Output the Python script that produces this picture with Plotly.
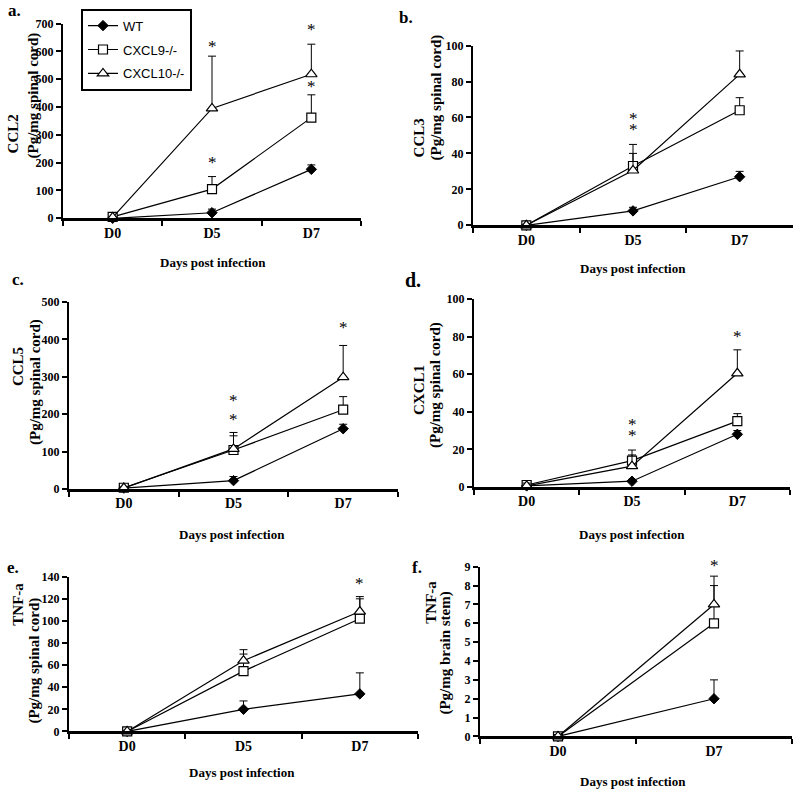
import plotly.graph_objects as go

W, H = 800, 795

# ---------------- data ----------------
days3 = ["D0", "D5", "D7"]
days2 = ["D0", "D7"]

# a. CCL2
a_wt = [0, 20, 176];    a_wt_err = [2, 13, 16]
a_c9 = [5, 105, 362];   a_c9_err = [3, 45, 82]
a_c10 = [3, 395, 518];  a_c10_err = [3, 188, 108]
a_star_x = ["D5", "D5", "D7", "D7"]; a_star_y = [604, 185, 664, 461]

# b. CCL3
b_wt = [0, 8, 27];      b_wt_err = [0.5, 2, 3]
b_c9 = [0, 33, 64];     b_c9_err = [0.5, 12, 7]
b_c10 = [0, 30.5, 84];  b_c10_err = [0.5, 9.5, 13]
b_star_x = ["D5", "D5", "D7"]; b_star_y = [57, 51, 103]

# c. CCL5
c_wt = [2, 22, 161];    c_wt_err = [3, 11, 12]
c_c9 = [3, 104, 212];   c_c9_err = [3, 47, 35]
c_c10 = [2, 107, 299];  c_c10_err = [3, 35, 85]
c_star_x = ["D5", "D5", "D7"]; c_star_y = [225, 176, 421]

# d. CXCL1
d_wt = [0.5, 3, 28];    d_wt_err = [1, 1, 2]
d_c9 = [1, 14, 35];     d_c9_err = [1.5, 5.6, 4]
d_c10 = [0.5, 11, 60.5]; d_c10_err = [1.5, 6, 12.5]
d_star_x = ["D5", "D5", "D7"]; d_star_y = [31, 25, 78]

# e. TNF-a spinal cord
e_wt = [0, 20, 34];     e_wt_err = [1, 7.6, 19]
e_c9 = [0, 54.6, 102];  e_c9_err = [1, 15.4, 18]
e_c10 = [0, 64, 108.5]; e_c10_err = [1, 10, 13.5]
e_star_x = ["D7", "D7"]; e_star_y = [143, 130]

# f. TNF-a brain stem
f_wt = [0, 2];          f_wt_err = [0.1, 1.0]
f_c9 = [0, 6];          f_c9_err = [0.1, 2.0]
f_c10 = [0, 7];         f_c10_err = [0.1, 1.5]
f_star_x = ["D7", "D7"]; f_star_y = [9.3, 8.86]

series_names = ["WT", "CXCL9-/-", "CXCL10-/-"]

# ---------------- layout helpers ----------------
def fx(px):
    return px / W

def fy(py):
    # small vertical stretch about the centre to offset the capture's compression
    y = H / 2 + (py - H / 2) / 0.984
    return 1 - y / H

SERIF = "Liberation Serif, Times New Roman, serif"
SANS = "Liberation Sans, Arial, sans-serif"

panels = [
    dict(cats=days3, s=[(a_wt, a_wt_err), (a_c9, a_c9_err), (a_c10, a_c10_err)],
         sx=a_star_x, sy=a_star_y, box=(63, 361, 23, 218), ymax=700, dt=100,
         t1="CCL2", t2="(Pg/mg spinal cord)", t1p=(13, 134), t2p=(33, 95),
         xt=(213, 262), lab="a.", labp=(14, 10), labs=17),
    dict(cats=days3, s=[(b_wt, b_wt_err), (b_c9, b_c9_err), (b_c10, b_c10_err)],
         sx=b_star_x, sy=b_star_y, box=(473, 793, 45, 225), ymax=100, dt=20,
         t1="CCL3", t2="(Pg/mg spinal cord)", t1p=(419, 138), t2p=(436, 97),
         xt=(633, 268), lab="b.", labp=(406, 17), labs=17),
    dict(cats=days3, s=[(c_wt, c_wt_err), (c_c9, c_c9_err), (c_c10, c_c10_err)],
         sx=c_star_x, sy=c_star_y, box=(69, 398, 302, 489), ymax=500, dt=100,
         t1="CCL5", t2="(Pg/mg spinal cord)", t1p=(18, 367), t2p=(35, 382),
         xt=(232, 535), lab="c.", labp=(18, 279), labs=17),
    dict(cats=days3, s=[(d_wt, d_wt_err), (d_c9, d_c9_err), (d_c10, d_c10_err)],
         sx=d_star_x, sy=d_star_y, box=(474, 790, 299, 487), ymax=100, dt=20,
         t1="CXCL1", t2="(Pg/mg spinal cord)", t1p=(419, 390), t2p=(435, 385),
         xt=(632, 535), lab="d.", labp=(413, 280), labs=20),
    dict(cats=days3, s=[(e_wt, e_wt_err), (e_c9, e_c9_err), (e_c10, e_c10_err)],
         sx=e_star_x, sy=e_star_y, box=(69, 418, 577, 732), ymax=140, dt=20,
         t1="TNF-a", t2="(Pg/mg spinal cord)", t1p=(18, 605), t2p=(35, 661),
         xt=(242, 773), lab="e.", labp=(13, 568), labs=17),
    dict(cats=days2, s=[(f_wt, f_wt_err), (f_c9, f_c9_err), (f_c10, f_c10_err)],
         sx=f_star_x, sy=f_star_y, box=(480, 792, 567, 737), ymax=9, dt=1,
         t1="TNF-a", t2="(Pg/mg brain stem)", t1p=(431, 602), t2p=(446, 654),
         xt=(633, 782), lab="f.", labp=(417, 568), labs=17),
]

markers = [
    dict(symbol="diamond", size=8, color="black", line=dict(color="black", width=1)),
    dict(symbol="square", size=9, color="white", line=dict(color="black", width=1.2)),
    dict(symbol="triangle-up", size=10, color="white", line=dict(color="black", width=1.2)),
]

fig = go.Figure()
annotations = []
layout = {}


def ann(x, y, text, size, bold=True, angle=0):
    return dict(x=fx(x), y=fy(y), xref="paper", yref="paper", text=text,
                textangle=angle, showarrow=False, xanchor="center", yanchor="middle",
                font=dict(family=SERIF, size=size, color="black",
                          weight="bold" if bold else "normal"))


for i, p in enumerate(panels, start=1):
    xa = "x" if i == 1 else f"x{i}"
    ya = "y" if i == 1 else f"y{i}"
    x0, x1, yt, yb = p["box"]
    n = len(p["cats"])
    layout["xaxis" if i == 1 else f"xaxis{i}"] = dict(
        domain=[fx(x0), fx(x1)], anchor=ya, type="category",
        categoryorder="array", categoryarray=p["cats"], range=[-0.5, n - 0.5],
        showline=True, linecolor="black", linewidth=2.5, ticks="outside",
        tickson="boundaries", ticklen=5, tickwidth=1.5, tickcolor="black",
        showgrid=False, zeroline=False,
        tickfont=dict(family=SERIF, size=14, color="black", weight="bold"),
    )
    layout["yaxis" if i == 1 else f"yaxis{i}"] = dict(
        domain=[fy(yb), fy(yt)], anchor=xa, range=[0, p["ymax"]], dtick=p["dt"],
        showline=True, linecolor="black", linewidth=2, ticks="outside",
        ticklen=5, tickwidth=1.5, tickcolor="black", showgrid=False, zeroline=False,
        tickfont=dict(family=SERIF, size=12, color="black", weight="bold"),
    )
    for k, (vals, errs) in enumerate(p["s"]):
        fig.add_trace(go.Scatter(
            x=p["cats"], y=vals, mode="lines+markers", name=series_names[k],
            xaxis=xa, yaxis=ya, showlegend=(i == 1), legendgroup=series_names[k],
            line=dict(color="black", width=1.2), marker=markers[k], cliponaxis=False,
            error_y=dict(type="data", array=errs, arrayminus=[0] * len(errs),
                         symmetric=False, color="black", thickness=1, width=4),
        ))
    for sx, sy in zip(p["sx"], p["sy"]):
        annotations.append(dict(x=sx, y=sy, xref=xa, yref=ya, text="*", showarrow=False,
                                xanchor="center", yanchor="middle", yshift=4,
                                font=dict(family=SERIF, size=17, color="black")))
    annotations.append(ann(*p["t1p"], p["t1"], 15, angle=-90))
    annotations.append(ann(*p["t2p"], p["t2"], 15, angle=-90))
    annotations.append(ann(*p["xt"], "Days post infection", 13))
    annotations.append(ann(*p["labp"], p["lab"], p["labs"]))

fig.update_layout(
    width=W, height=H, margin=dict(l=0, r=0, t=0, b=0),
    paper_bgcolor="white", plot_bgcolor="white",
    annotations=annotations,
    showlegend=True,
    legend=dict(x=fx(81), y=fy(8), xanchor="left", yanchor="top",
                bordercolor="black", borderwidth=2, bgcolor="white",
                font=dict(family=SANS, size=13, color="black"),
                tracegroupgap=4, itemwidth=30),
    **layout,
)

fig.write_html(
    "out.html",
    config={"displayModeBar": False},
    post_script=("document.documentElement.style.margin='0';"
                 "document.documentElement.style.overflow='hidden';"
                 "document.body.style.margin='0';"
                 "document.body.style.overflow='hidden';"),
)
